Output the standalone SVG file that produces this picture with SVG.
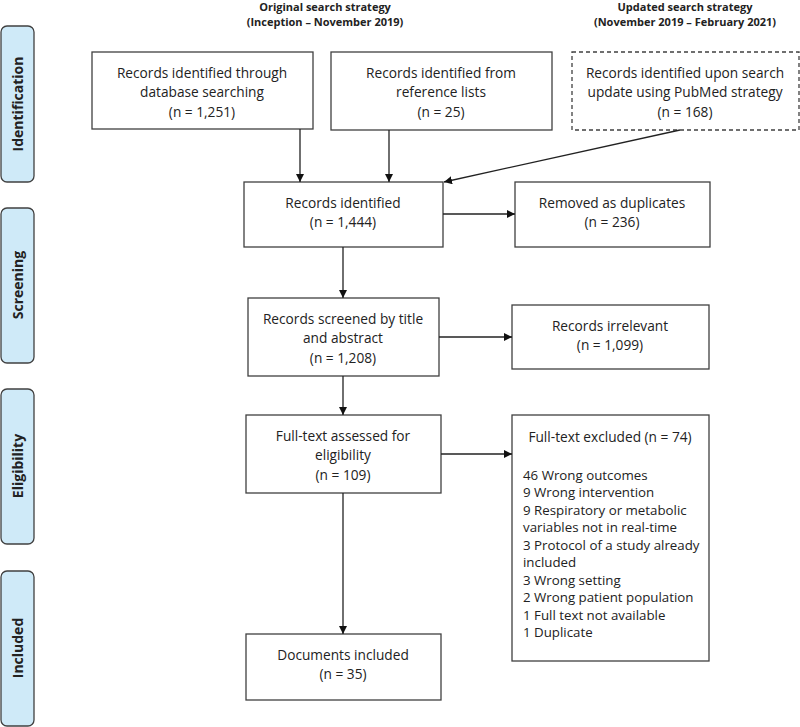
<svg xmlns="http://www.w3.org/2000/svg" width="800" height="727" viewBox="0 0 800 727">
<defs>
<style>
.box{fill:#fff;stroke:#404040;stroke-width:1.3}
.dash{fill:#fff;stroke:#404040;stroke-width:1.3;stroke-dasharray:4,3}
.side{fill:#cfeaf8;stroke:#404040;stroke-width:1.3}
text{font-family:"Open Sans","Liberation Sans",sans-serif;font-size:13.7px;fill:#222}
.c{text-anchor:middle}
.li{font-size:13.3px}
.hd{font-weight:bold;font-size:11px;text-anchor:middle}
.sl{font-weight:bold;font-size:14px;text-anchor:middle}
.con{stroke:#222;stroke-width:1.3;fill:none;marker-end:url(#ah)}
</style>
<marker id="ah" viewBox="0 0 10 10" refX="10" refY="5" markerWidth="8" markerHeight="8" markerUnits="userSpaceOnUse" orient="auto">
<path d="M0,0 L10,5 L0,10 z" fill="#111"/>
</marker>
</defs>
<g id="headers">
<text class="hd" x="325" y="11">Original search strategy</text>
<text class="hd" x="325" y="26">(Inception – November 2019)</text>
<text class="hd" x="685" y="11">Updated search strategy</text>
<text class="hd" x="685" y="26">(November 2019 – February 2021)</text>
</g>
<g id="stage-identification"><rect class="side" x="1" y="26" width="33" height="156" rx="6"/><text class="sl" transform="translate(23,104) rotate(-90)">Identification</text></g>
<g id="stage-screening"><rect class="side" x="1" y="208" width="33" height="155" rx="6"/><text class="sl" transform="translate(23,285) rotate(-90)">Screening</text></g>
<g id="stage-eligibility"><rect class="side" x="1" y="389" width="33" height="155" rx="6"/><text class="sl" transform="translate(23,466) rotate(-90)">Eligibility</text></g>
<g id="stage-included"><rect class="side" x="1" y="571" width="33" height="155" rx="6"/><text class="sl" transform="translate(23,648) rotate(-90)">Included</text></g>
<g id="n-database"><rect class="box" x="92" y="52" width="221" height="77"/>
<text class="c" x="202" y="78">Records identified through</text><text class="c" x="202" y="97">database searching</text><text class="c" x="202" y="117">(n = 1,251)</text></g>
<g id="n-reference"><rect class="box" x="331" y="52" width="221" height="78"/>
<text class="c" x="441" y="78">Records identified from</text><text class="c" x="441" y="97">reference lists</text><text class="c" x="441" y="117">(n = 25)</text></g>
<g id="n-update"><rect class="dash" x="572" y="52" width="227" height="78"/>
<text class="c" x="685" y="78">Records identified upon search</text><text class="c" x="685" y="97">update using PubMed strategy</text><text class="c" x="685" y="117">(n = 168)</text></g>
<g id="n-identified"><rect class="box" x="244" y="182" width="199" height="65"/>
<text class="c" x="343" y="208">Records identified</text><text class="c" x="343" y="227">(n = 1,444)</text></g>
<g id="n-duplicates"><rect class="box" x="515" y="182" width="195" height="65"/>
<text class="c" x="612" y="208">Removed as duplicates</text><text class="c" x="612" y="227">(n = 236)</text></g>
<g id="n-screened"><rect class="box" x="248" y="298" width="191" height="78"/>
<text class="c" x="343" y="324">Records screened by title</text><text class="c" x="343" y="343">and abstract</text><text class="c" x="343" y="363">(n = 1,208)</text></g>
<g id="n-irrelevant"><rect class="box" x="512" y="305" width="197" height="64"/>
<text class="c" x="610" y="331">Records irrelevant</text><text class="c" x="610" y="350">(n = 1,099)</text></g>
<g id="n-fulltext"><rect class="box" x="246" y="415" width="195" height="78"/>
<text class="c" x="343" y="441">Full-text assessed for</text><text class="c" x="343" y="460">eligibility</text><text class="c" x="343" y="480">(n = 109)</text></g>
<g id="n-excluded"><rect class="box" x="512" y="415" width="197" height="246"/>
<text class="c" x="610" y="442">Full-text excluded (n = 74)</text>
<text class="li" x="523" y="480">46 Wrong outcomes</text>
<text class="li" x="523" y="497">9 Wrong intervention</text>
<text class="li" x="523" y="515">9 Respiratory or metabolic</text>
<text class="li" x="523" y="532">variables not in real-time</text>
<text class="li" x="523" y="550">3 Protocol of a study already</text>
<text class="li" x="523" y="567">included</text>
<text class="li" x="523" y="585">3 Wrong setting</text>
<text class="li" x="523" y="602">2 Wrong patient population</text>
<text class="li" x="523" y="620">1 Full text not available</text>
<text class="li" x="523" y="637">1 Duplicate</text></g>
<g id="n-included"><rect class="box" x="246" y="634" width="195" height="66"/>
<text class="c" x="343" y="660">Documents included</text><text class="c" x="343" y="679">(n = 35)</text></g>
<g id="connectors">
<line class="con" x1="300" y1="129" x2="300" y2="182"/>
<line class="con" x1="389" y1="130" x2="389" y2="182"/>
<line class="con" x1="680" y1="130" x2="444" y2="182"/>
<line class="con" x1="443" y1="214" x2="515" y2="214"/>
<line class="con" x1="343" y1="247" x2="343" y2="298"/>
<line class="con" x1="439" y1="337" x2="512" y2="337"/>
<line class="con" x1="343" y1="376" x2="343" y2="415"/>
<line class="con" x1="441" y1="454" x2="512" y2="454"/>
<line class="con" x1="343" y1="493" x2="343" y2="634"/>
</g>
</svg>
